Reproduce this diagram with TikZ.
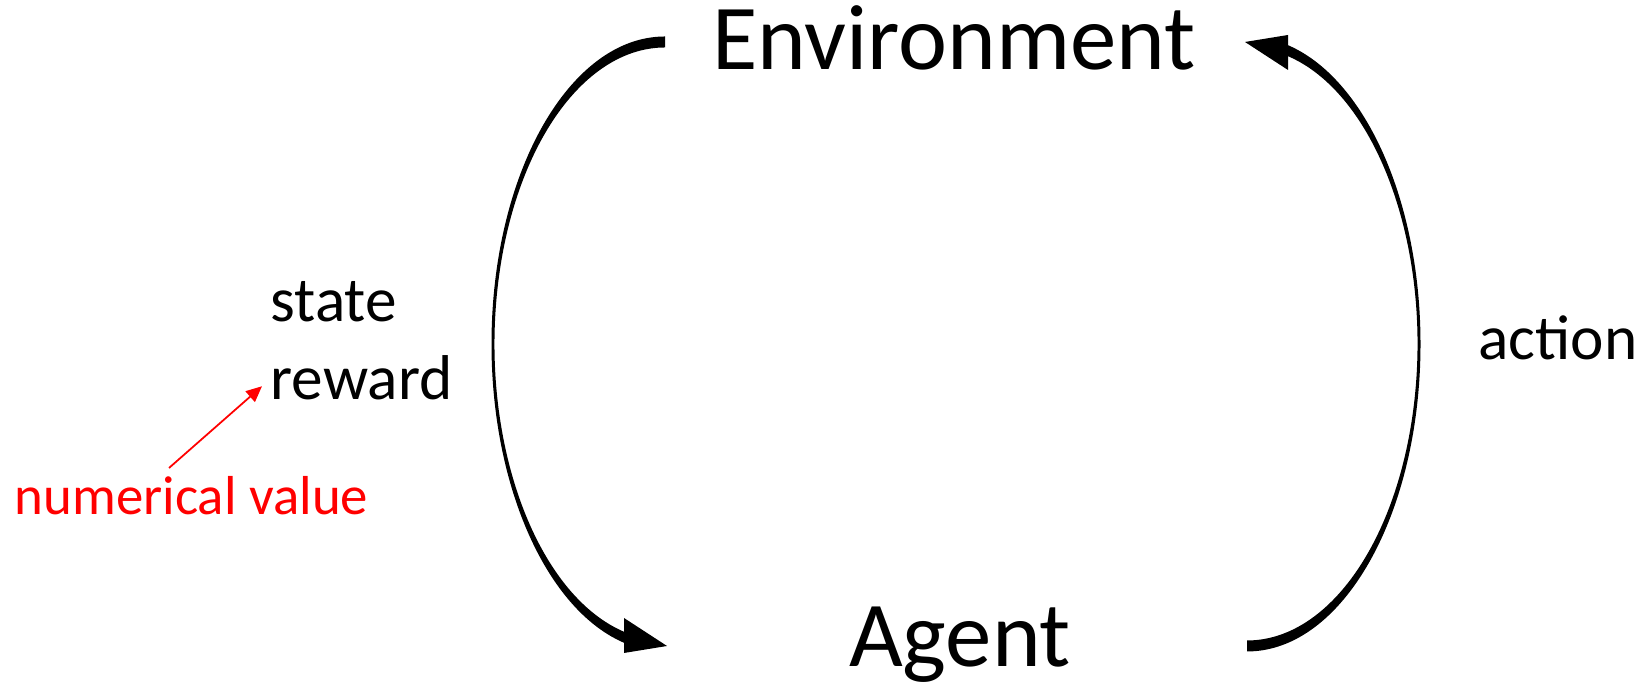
\documentclass[tikz,border=0pt]{standalone}
\usepackage{fontspec}
\setmainfont{Carlito}
\usepackage{tikz}
\usetikzlibrary{arrows.meta, calc}

\tikzset{
  bigword/.style={font=\fontsize{26.4}{31}\selectfont, inner sep=0pt},
  midword/.style={font=\fontsize{18}{22}\selectfont, inner sep=0pt},
  noteword/.style={font=\fontsize{15.6}{19}\selectfont, inner sep=0pt, text=red},
  notearrow/.style={draw=red, line width=0.5pt, -{Triangle[length=4.5pt, width=4pt]}},
}

\begin{document}
\begin{tikzpicture}[x=0.01cm, y=0.01cm]
  \useasboundingbox (0,0) rectangle (1645,686);

  % --- Words ---
  \node[bigword, anchor=base] (env) at (954,616) {Environment};
  \node[bigword, anchor=base] (agent) at (960,19) {Agent};
  \node[midword, anchor=base west] (state) at (270,364) {state};
  \node[midword, anchor=base west] (reward) at (270,286) {reward};
  \node[midword, anchor=base east] (action) at (1638,326) {action};
  \node[noteword, anchor=base west] (numval) at (14,171) {numerical value};

  % --- Left loop: Environment to Agent ---
  \coordinate (lc) at (665,342);
  \fill ($(lc)+(90:173.5 and 307.5)$)
    arc[start angle=90, end angle=257, x radius=173.5, y radius=307.5]
    -- ($(lc)+(257:170.5 and 296.5)$)
    arc[start angle=257, end angle=90, x radius=170.5, y radius=296.5] -- cycle;
  \fill (624,68) -- (667,40) -- (624,33) -- cycle;

  % --- Right loop: Agent to Environment ---
  \coordinate (rc) at (1247,342);
  \fill ($(rc)+(-90:173.5 and 307.5)$)
    arc[start angle=-90, end angle=77, x radius=173.5, y radius=307.5]
    -- ($(rc)+(77:170.5 and 296.5)$)
    arc[start angle=77, end angle=-90, x radius=170.5, y radius=296.5] -- cycle;
  \fill (1288,616) -- (1245,644) -- (1288,651) -- cycle;

  % red note arrow
  \coordinate (numtail) at (169,218);
  \draw[notearrow] (numtail) -- ($(reward.west)+(-8,-8)$);
\end{tikzpicture}
\end{document}
